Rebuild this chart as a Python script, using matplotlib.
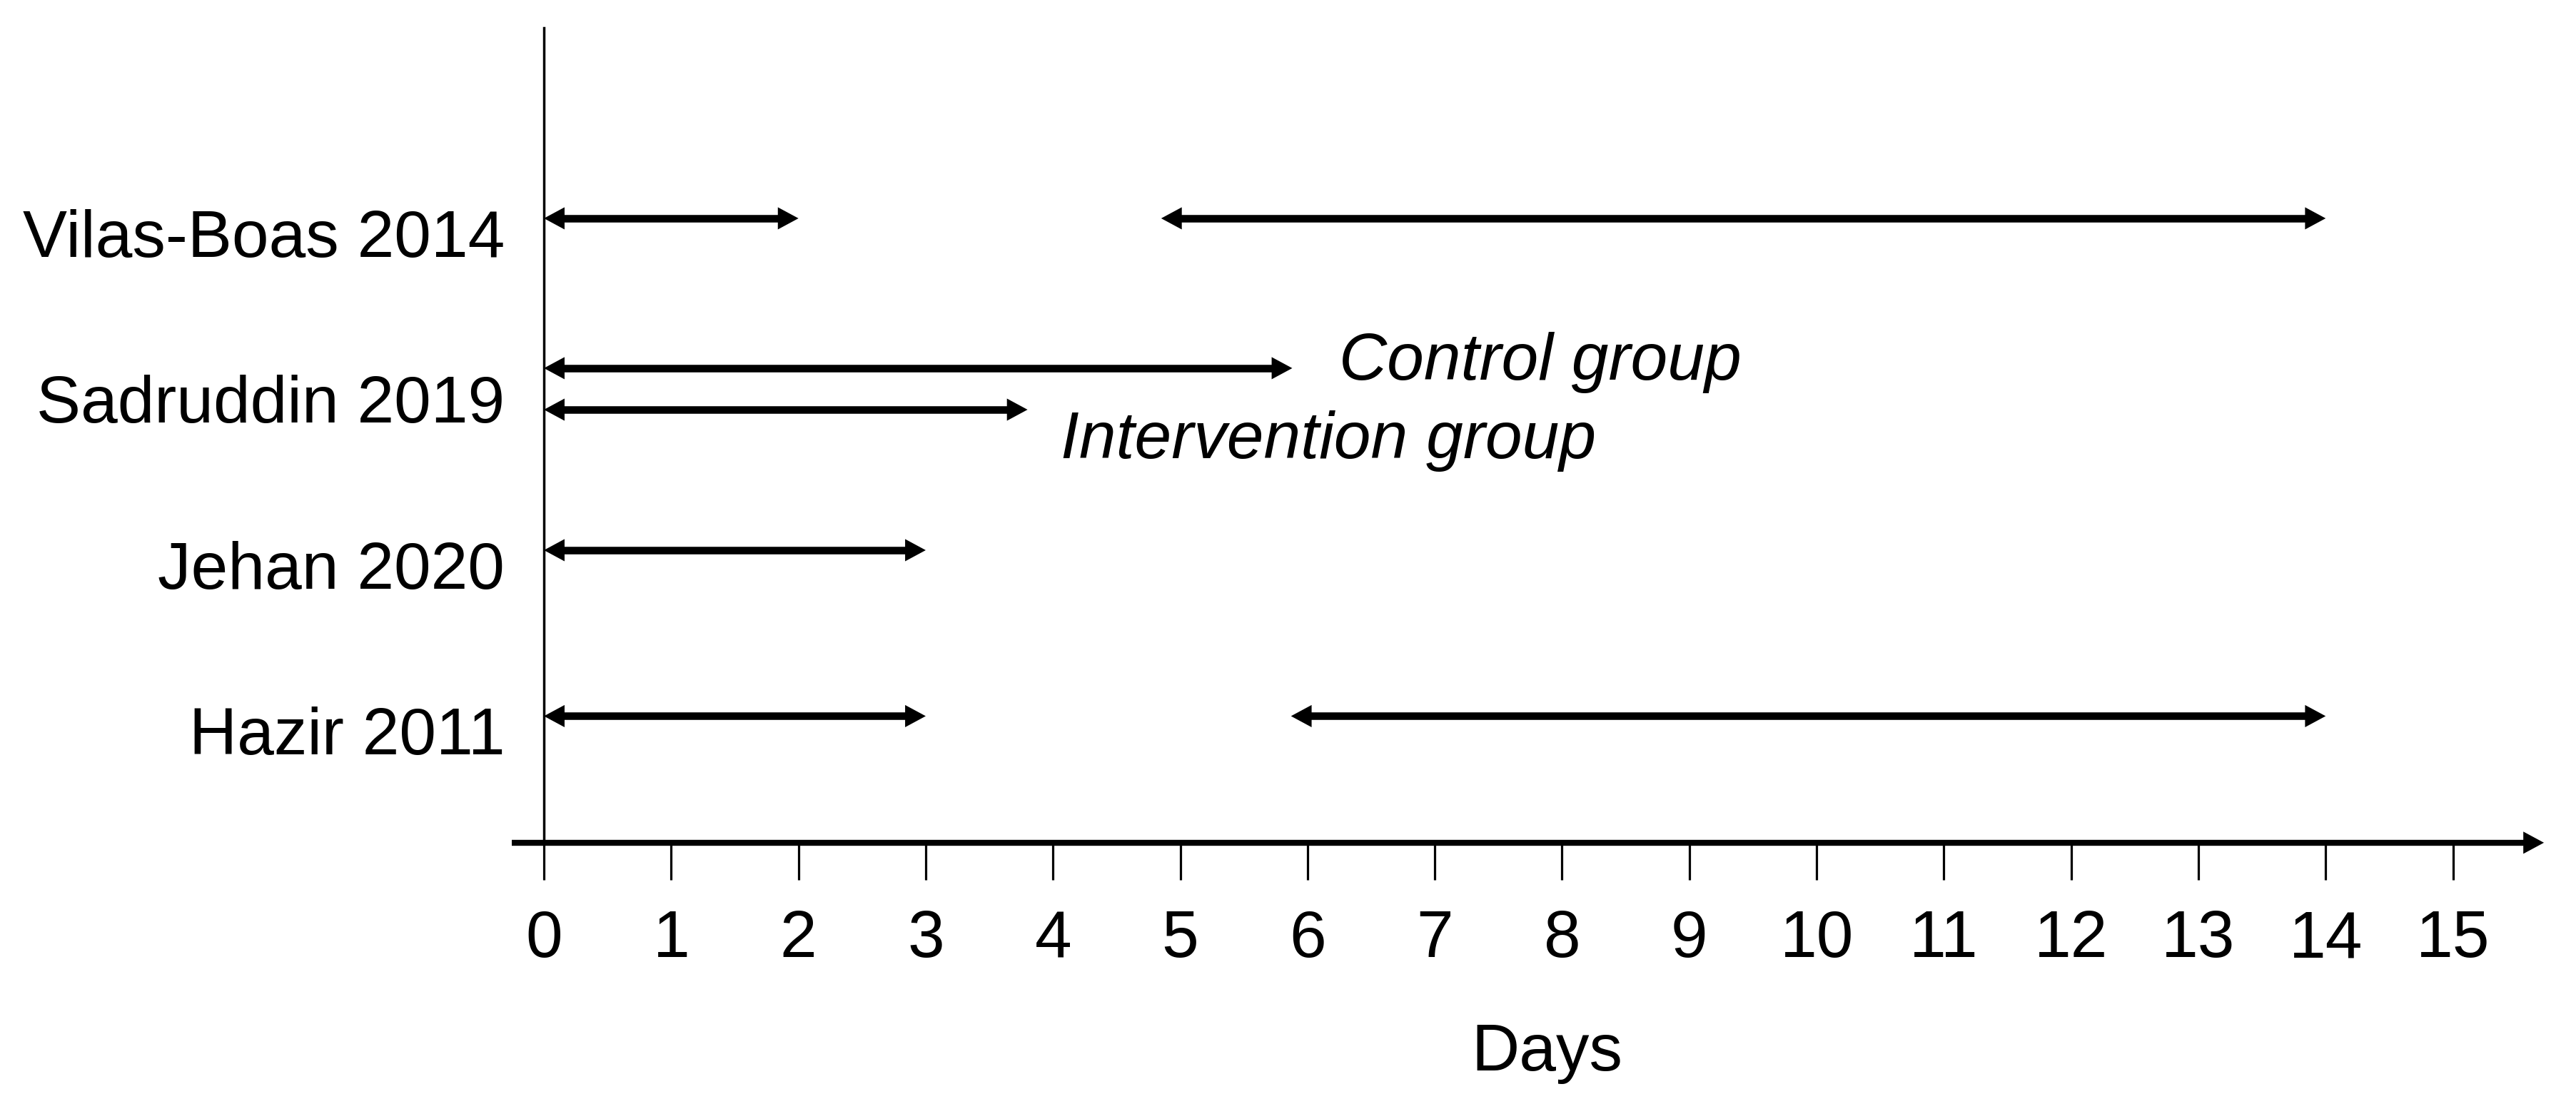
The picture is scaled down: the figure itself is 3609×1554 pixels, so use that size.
import matplotlib
matplotlib.use("Agg")
import matplotlib.pyplot as plt

plt.rcParams['font.family'] = ['Liberation Sans', 'DejaVu Sans']

# studies from top to bottom
studies = ['Vilas-Boas 2014', 'Sadruddin 2019', 'Jehan 2020', 'Hazir 2011']

# treatment periods (days)
period_study = ['Vilas-Boas 2014', 'Vilas-Boas 2014', 'Sadruddin 2019', 'Sadruddin 2019',
                'Jehan 2020', 'Hazir 2011', 'Hazir 2011']
period_group = ['', '', 'Control group', 'Intervention group', '', '', '']
period_start = [0, 4.85, 0, 0, 0, 0, 5.87]
period_end = [2, 14, 5.88, 3.8, 3, 3, 14]

days = list(range(0, 16))

# layout
group_offset = {'': 0.0, 'Control group': 0.097, 'Intervention group': -0.153}
group_text = {'Control group': (0.37, 0.028), 'Intervention group': (0.26, -0.445)}
fs = 67
x_axis_y = -0.763

fig = plt.figure(figsize=(36.09, 15.54), dpi=100)
ax = fig.add_axes([0, 0, 1, 1])
ax.set_xlim(-4.274, 15.967)
ax.set_ylim(-2.368, 4.316)

row_y = {s: len(studies) - 1 - i for i, s in enumerate(studies)}

# axes lines
for side in ['top', 'right']:
    ax.spines[side].set_visible(False)
ax.spines['left'].set_position(('data', 0))
ax.spines['left'].set_bounds(x_axis_y, 4.148)
ax.spines['left'].set_linewidth(2.5)
ax.spines['bottom'].set_position(('data', x_axis_y))
ax.spines['bottom'].set_bounds(-0.252, 15.6)
ax.spines['bottom'].set_linewidth(6)
ax.spines['bottom'].set_capstyle('butt')

ax.set_xticks(days, [str(d) for d in days])
ax.set_yticks([])
ax.tick_params(axis='x', direction='out', length=37.4, width=2.3, pad=30,
               labelsize=fs, colors='black')

head = 'head_length=1.04,head_width=0.56'

# x axis arrow head
ax.annotate('', xy=(15.715, x_axis_y), xytext=(15.3, x_axis_y),
            arrowprops=dict(arrowstyle='-|>,' + head, mutation_scale=20, lw=0,
                            color='black', shrinkA=0, shrinkB=0))

# study labels
for s in studies:
    ax.text(-0.308, row_y[s] - 0.232, s, ha='right', va='baseline', fontsize=fs)

# periods as double arrows
trim = 0.1
for s, g, a, b in zip(period_study, period_group, period_start, period_end):
    y = row_y[s] + group_offset[g]
    ax.plot([a + trim, b - trim], [y, y], color='black', lw=7.6, solid_capstyle='butt')
    ax.annotate('', xy=(b, y), xytext=(a, y),
                arrowprops=dict(arrowstyle='<|-|>,' + head, mutation_scale=20, lw=0,
                                color='black', shrinkA=0, shrinkB=0))
    if g:
        dx, dy = group_text[g]
        ax.text(b + dx, row_y[s] + dy, g, ha='left', va='baseline', fontsize=fs,
                style='italic')

ax.text(7.88, -2.135, 'Days', ha='center', va='baseline', fontsize=fs)

fig.savefig('out.png', dpi=100, facecolor='white')
